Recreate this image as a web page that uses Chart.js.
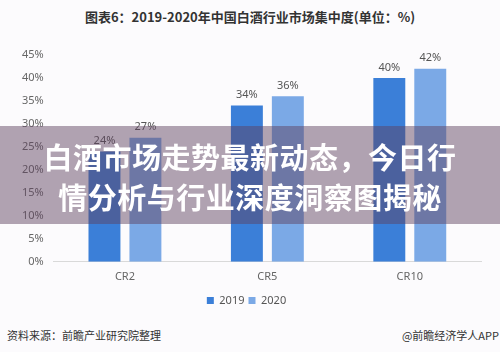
<!DOCTYPE html>
<html><head><meta charset="utf-8">
<script src="https://cdn.jsdelivr.net/npm/chart.js@4/dist/chart.umd.min.js"></script>
<style>
html,body{margin:0;padding:0;background:#fcfbfd;}
#wrap{position:relative;width:500px;height:352px;overflow:hidden;font-family:"Noto Sans CJK SC","Noto Sans",sans-serif;}
#title{position:absolute;top:7px;left:0;width:500px;text-align:center;font-size:13px;font-weight:bold;color:#333;line-height:20px;}
#cv{position:absolute;left:0;top:0;}
#banner{position:absolute;left:0;top:126px;width:500px;height:98px;background:rgba(95,65,95,0.48);color:#fff;font-weight:bold;font-size:29px;line-height:40px;text-align:center;padding-top:10px;box-sizing:border-box;letter-spacing:0.5px;}
#src{position:absolute;left:7px;top:327px;font-size:11px;color:#333;}
#app{position:absolute;right:1px;top:327px;font-size:11px;color:#333;}
</style></head>
<body><div id="wrap">
<div id="title">图表6：2019-2020年中国白酒行业市场集中度(单位：%)</div>
<canvas id="cv" width="500" height="318"></canvas>
<div id="banner">白酒市场走势最新动态，今日行<br>情分析与行业深度洞察图揭秘</div>
<div id="src">资料来源：前瞻产业研究院整理</div>
<div id="app">@前瞻经济学人APP</div>
</div>
<script>
const categories = ["CR2","CR5","CR10"];
const series2019 = [24,34,40];
const series2020 = [27,36,42];
const seriesNames = ["2019","2020"];
const yTicks = [0,5,10,15,20,25,30,35,40,45];

const valueLabels = {
  id:'valueLabels',
  afterDatasetsDraw(chart){
    const ctx = chart.ctx;
    ctx.save();
    ctx.font = '11px "Noto Sans", sans-serif';
    ctx.fillStyle = '#555';
    ctx.textAlign = 'center';
    ctx.textBaseline = 'bottom';
    chart.data.datasets.forEach((ds,i)=>{
      chart.getDatasetMeta(i).data.forEach((bar,j)=>{
        ctx.fillText(ds.data[j]+'%', bar.x, bar.y-5);
      });
    });
    ctx.restore();
  }
};

new Chart(document.getElementById('cv'),{
  type:'bar',
  data:{labels:categories,datasets:[
    {label:seriesNames[0],data:series2019,backgroundColor:'#3b7fd8'},
    {label:seriesNames[1],data:series2020,backgroundColor:'#7ba9e6'}
  ]},
  options:{
    responsive:false,animation:false,
    layout:{padding:{top:55,left:12,right:19,bottom:2}},
    datasets:{bar:{categoryPercentage:0.575,barPercentage:0.78}},
    plugins:{
      legend:{position:'bottom',labels:{boxWidth:7,boxHeight:7,font:{size:11,family:'"Noto Sans", sans-serif'},color:'#555',padding:4}},
      tooltip:{enabled:false}
    },
    scales:{
      x:{grid:{display:false,drawTicks:false},border:{color:'#d9d9d9'},ticks:{color:'#666',font:{size:11,family:'"Noto Sans", sans-serif'},padding:8}},
      y:{min:0,max:45,afterBuildTicks(s){s.ticks=yTicks.map(v=>({value:v}));},grid:{display:false,drawTicks:false},border:{display:false},ticks:{color:'#666',font:{size:11,family:'"Noto Sans", sans-serif'},padding:10,callback:v=>v+'%'}}
    }
  },
  plugins:[valueLabels]
});
</script>
</body></html>
